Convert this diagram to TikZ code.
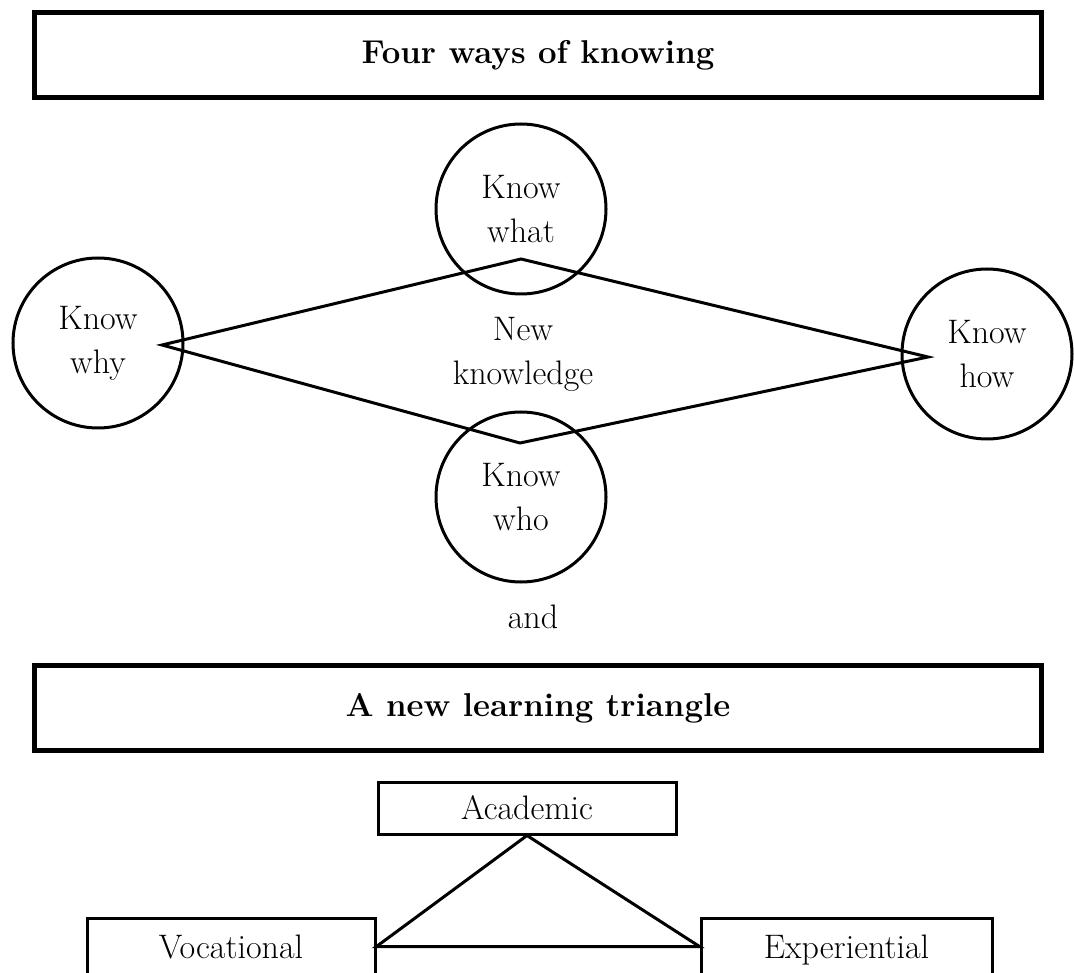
\documentclass[tikz,border=0pt]{standalone}
\usepackage{tikz}
\usetikzlibrary{positioning}

\begin{document}
\begin{tikzpicture}[
        x=1pt, y=-1pt,
        title_style/.style={draw=black, line width=4.5pt, minimum width=1007pt, minimum height=85pt, inner sep=0pt, font=\fontsize{33}{40}\selectfont\bfseries},
        know_style/.style={draw=black, line width=3pt, circle, minimum size=170pt, inner sep=0pt, align=center, font=\fontsize{34}{44}\selectfont},
        box_style/.style={draw=black, line width=3pt, inner sep=0pt, font=\fontsize{34}{44}\selectfont},
        text_style/.style={align=center, font=\fontsize{34}{44}\selectfont}
    ]
    \useasboundingbox (0,0) rectangle (1074,973);
    \clip (0,0) rectangle (1074,973);

    % Top title
    \node[title_style] (T1) at (538,55) {Four ways of knowing};

    % The four ways
    \node[know_style] (KWhat) at (521,209) {Know\\what};
    \node[know_style] (KWhy) at (98,343) {Know\\why};
    \node[know_style] (KHow) at (987,354) {Know\\how};
    \node[know_style] (KWho) at (521,497) {Know\\who};

    % Diamond in the middle
    \coordinate (DW) at (162,345);
    \coordinate (DN) at (521,259);
    \coordinate (DE) at (928,357);
    \coordinate (DS) at (520,443);
    \draw[line width=3pt] (DW) -- (DN) -- (DE) -- (DS) -- cycle;
    \node[text_style] (NK) at (523,354) {New\\knowledge};

    \node[text_style] (And) at (533,617) {and};

    % Second title
    \node[title_style] (T2) at (538,708) {A new learning triangle};

    % Learning triangle
    \node[box_style, minimum width=298pt, minimum height=52pt] (Acad) at (527,808) {Academic};
    \node[box_style, minimum width=288pt, text height=40pt, text depth=150pt, anchor=north] (Voc) at (231,916.5) {Vocational};
    \node[box_style, minimum width=291pt, text height=40pt, text depth=150pt, anchor=north] (Exp) at (846.5,916.5) {Experiential};
    \coordinate (VocC) at ([yshift=-30pt]Voc.north east);
    \coordinate (ExpC) at ([yshift=-30pt]Exp.north west);
    \draw[line width=3pt] (Acad.south) -- (VocC) -- (ExpC) -- cycle;

\end{tikzpicture}
\end{document}
